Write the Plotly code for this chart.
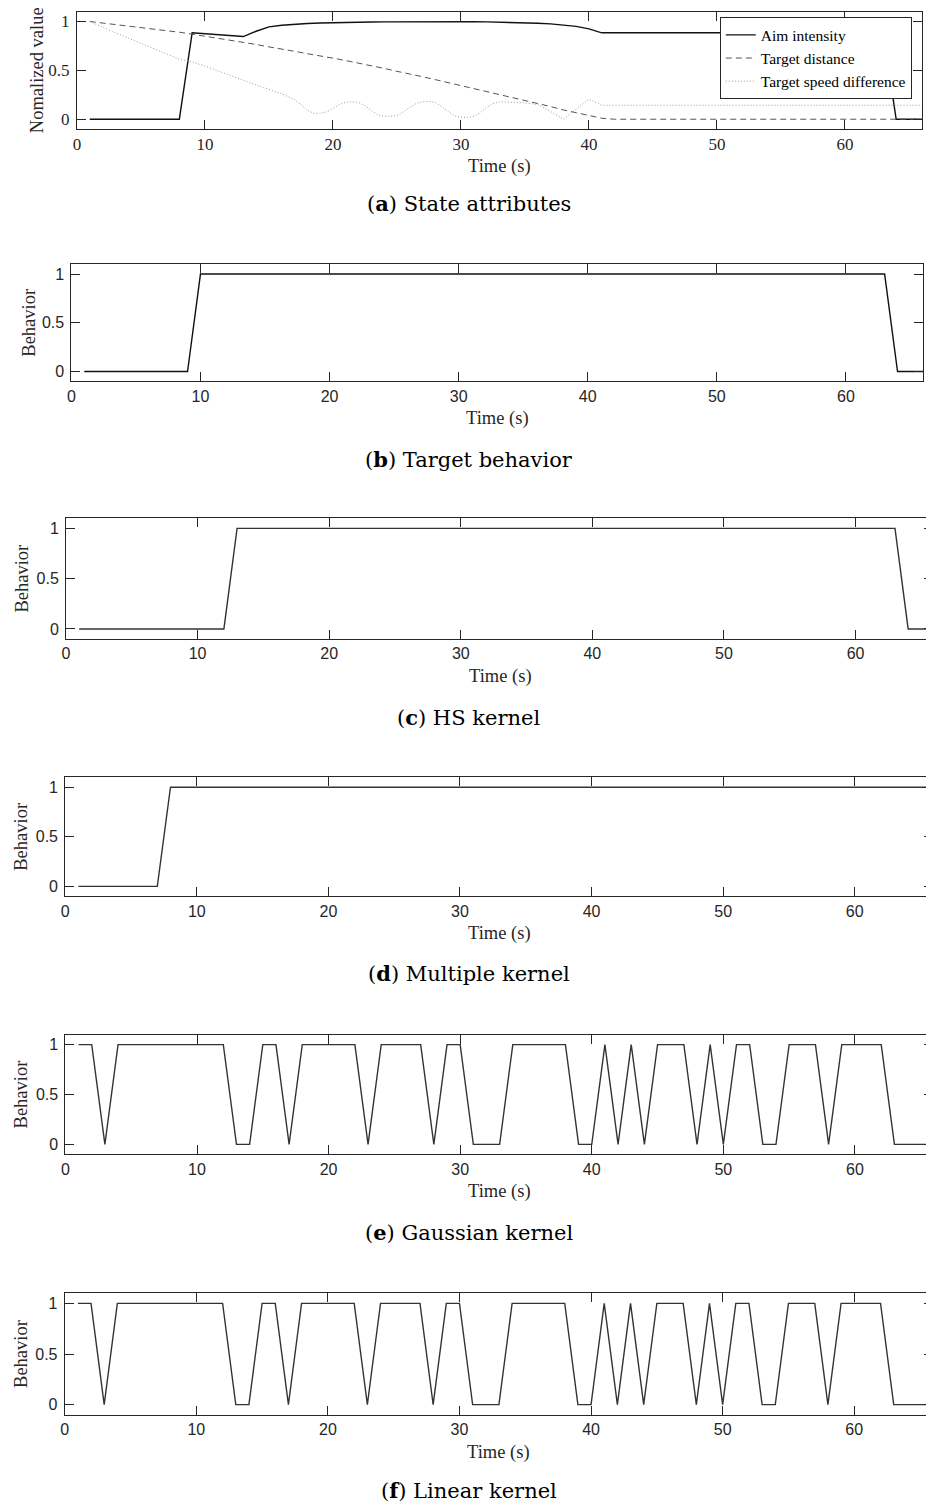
import plotly.graph_objects as go

# ---------------- data ----------------
time_s = list(range(1, 67))

aim_intensity = [0, 0, 0, 0, 0, 0, 0, 0,
                 0.884, 0.874, 0.864, 0.855, 0.846, 0.90, 0.945, 0.962, 0.972, 0.979,
                 0.984, 0.988, 0.991, 0.993, 0.995, 0.996, 0.997, 0.998, 0.998, 0.998,
                 0.998, 0.998, 0.997, 0.996, 0.994, 0.991, 0.987, 0.982, 0.975, 0.965,
                 0.95, 0.925, 0.884] + [0.884] * 22 + [0, 0, 0]

target_distance = [1.0, 0.985, 0.97, 0.955, 0.94, 0.925, 0.91, 0.89, 0.87, 0.85,
                   0.83, 0.81, 0.785, 0.765, 0.74, 0.72, 0.695, 0.67, 0.65, 0.625,
                   0.6, 0.575, 0.545, 0.52, 0.49, 0.465, 0.435, 0.405, 0.375, 0.345,
                   0.315, 0.285, 0.255, 0.225, 0.195, 0.16, 0.13, 0.095, 0.065, 0.035,
                   0.01] + [0.0] * 25

speed_time = [1, 2, 3, 4, 5, 6, 7, 8, 9, 10, 11, 12, 13, 14, 15, 16, 17, 17.5, 18, 18.5,
              19, 19.5, 20, 20.5, 21, 21.5, 22, 22.5, 23, 23.5, 24, 24.5, 25, 25.5, 26,
              26.5, 27, 27.5, 28, 28.5, 29, 29.5, 30, 30.5, 31, 31.5, 32, 32.5, 33, 33.5,
              34, 35, 36, 37, 38, 39, 40, 41, 66]
speed_difference = [1.0, 0.94, 0.885, 0.83, 0.775, 0.72, 0.665, 0.615, 0.585, 0.545,
                    0.495, 0.445, 0.395, 0.35, 0.305, 0.26, 0.2, 0.15, 0.09, 0.062,
                    0.06, 0.075, 0.11, 0.15, 0.175, 0.178, 0.17, 0.14, 0.09, 0.045,
                    0.03, 0.03, 0.04, 0.075, 0.12, 0.16, 0.18, 0.182, 0.17, 0.13,
                    0.08, 0.035, 0.02, 0.018, 0.03, 0.07, 0.12, 0.16, 0.178, 0.175,
                    0.17, 0.168, 0.15, 0.08, 0.0, 0.1, 0.205, 0.143, 0.143]

target_behavior = [0] * 9 + [1] * 54 + [0] * 3
hs_kernel = [0] * 12 + [1] * 51 + [0] * 3
multiple_kernel = [0] * 7 + [1] * 59
gaussian_kernel = [1, 1, 0, 1, 1, 1, 1, 1, 1, 1, 1, 1, 0, 0, 1, 1, 0, 1, 1, 1,
                   1, 1, 0, 1, 1, 1, 1, 0, 1, 1, 0, 0, 0, 1, 1, 1, 1, 1, 0, 0,
                   1, 0, 1, 0, 1, 1, 1, 0, 1, 0, 1, 1, 0, 0, 1, 1, 1, 0, 1, 1,
                   1, 1, 0, 0, 0, 0]
linear_kernel = [1, 1, 0, 1, 1, 1, 1, 1, 1, 1, 1, 1, 0, 0, 1, 1, 0, 1, 1, 1,
                 1, 1, 0, 1, 1, 1, 1, 0, 1, 1, 0, 0, 0, 1, 1, 1, 1, 1, 0, 0,
                 1, 0, 1, 0, 1, 1, 1, 0, 1, 0, 1, 1, 0, 0, 1, 1, 1, 0, 1, 1,
                 1, 1, 0, 0, 0, 0]

x_ticks = [0, 10, 20, 30, 40, 50, 60]
y_ticks = [0, 0.5, 1]
y_tick_labels = ["0", "0.5", "1"]

captions = ["(<b>a</b>) State attributes", "(<b>b</b>) Target behavior",
            "(<b>c</b>) HS kernel", "(<b>d</b>) Multiple kernel",
            "(<b>e</b>) Gaussian kernel", "(<b>f</b>) Linear kernel"]
y_titles = ["Nomalized value", "Behavior", "Behavior", "Behavior", "Behavior", "Behavior"]
x_title = "Time (s)"

# ---------------- layout geometry (page pixels) ----------------
OFF = 8                      # default page body margin
W, H = 934 - OFF, 1505 - OFF
SERIF = "Liberation Serif"
CAPFONT = "DejaVu Serif"
SANS = "Liberation Sans"
AX = "#262626"
PX_PER_S = 13.23

panels = [
    dict(left=73.3, right=922.7, top=11.7, bottom=129.0, ytx=33, cap=203, serif=True),
    dict(left=67.7, right=924.3, top=264.3, bottom=381.3, ytx=25, cap=460, serif=False),
    dict(left=62.3, right=None, top=518.3, bottom=639.0, ytx=18, cap=717, serif=False),
    dict(left=61.5, right=None, top=777.3, bottom=896.3, ytx=17, cap=973, serif=False),
    dict(left=61.7, right=None, top=1034.7, bottom=1154.3, ytx=17, cap=1232, serif=False),
    dict(left=61.0, right=None, top=1293.3, bottom=1414.7, ytx=17, cap=1490, serif=False),
]

def px(x):
    return (x - OFF) / W

def py(y):
    return 1 - (y - OFF) / H

fig = go.Figure()

# panel a traces
fig.add_trace(go.Scatter(x=time_s, y=aim_intensity, mode="lines", name="Aim intensity",
                         line=dict(color="#111111", width=1.4), xaxis="x", yaxis="y"))
fig.add_trace(go.Scatter(x=time_s, y=target_distance, mode="lines", name="Target distance",
                         line=dict(color="#555555", width=1, dash="6px,4px"), xaxis="x", yaxis="y"))
fig.add_trace(go.Scatter(x=speed_time, y=speed_difference, mode="lines",
                         name="Target speed difference",
                         line=dict(color="#9a9a9a", width=1, dash="1px,2px"), xaxis="x", yaxis="y"))

behaviors = [target_behavior, hs_kernel, multiple_kernel, gaussian_kernel, linear_kernel]
line_colors = ["#111111", "#333333", "#333333", "#333333", "#333333"]
for i, b in enumerate(behaviors):
    k = i + 2
    fig.add_trace(go.Scatter(x=time_s, y=b, mode="lines", showlegend=False,
                             line=dict(color=line_colors[i], width=1.4),
                             xaxis=f"x{k}", yaxis=f"y{k}"))

annotations = []
layout = {}
for i, p in enumerate(panels):
    k = "" if i == 0 else str(i + 1)
    if p["right"] is None:
        right_px = OFF + W
        xmax = (right_px - p["left"]) / PX_PER_S
        full_right = p["left"] + 66 * PX_PER_S
    else:
        right_px = p["right"]
        xmax = 66
        full_right = p["right"]
    tick_font = dict(family=SERIF if p["serif"] else SANS, size=17 if p["serif"] else 16,
                     color="#262626")
    layout[f"xaxis{k}"] = dict(
        domain=[px(p["left"]), min(1, px(right_px))], range=[0, xmax], anchor=f"y{k}",
        tickvals=x_ticks, ticks="inside", ticklen=9, tickcolor=AX, tickwidth=1,
        showline=True, linecolor=AX, linewidth=1, mirror="ticks",
        showgrid=False, zeroline=False, tickfont=tick_font, ticklabelstandoff=0,
    )
    layout[f"yaxis{k}"] = dict(
        domain=[py(p["bottom"]), py(p["top"])], range=[-0.1, 1.1], anchor=f"x{k}",
        tickvals=y_ticks, ticktext=y_tick_labels, ticks="inside", ticklen=9,
        tickcolor=AX, tickwidth=1, showline=True, linecolor=AX, linewidth=1,
        mirror="ticks", showgrid=False, zeroline=False, tickfont=tick_font,
        ticklabelstandoff=3,
    )
    annotations.append(dict(text=y_titles[i], textangle=-90, xref="paper", yref="paper",
                            x=px(p["ytx"]), y=py((p["top"] + p["bottom"]) / 2),
                            xanchor="center", yanchor="middle", showarrow=False,
                            font=dict(family=SERIF, size=18.5, color="#262626")))
    annotations.append(dict(text=x_title, xref="paper", yref="paper",
                            x=px((p["left"] + full_right) / 2),
                            y=py(p["bottom"] + 37.5), xanchor="center", yanchor="middle",
                            showarrow=False,
                            font=dict(family=SERIF, size=18.5, color="#262626")))
    annotations.append(dict(text=captions[i], xref="paper", yref="paper",
                            x=px(467), y=py(p["cap"]), xanchor="center", yanchor="middle",
                            showarrow=False, font=dict(family=CAPFONT, size=21, color="black")))

fig.update_layout(
    width=W, height=H, margin=dict(l=0, r=0, t=0, b=0),
    paper_bgcolor="white", plot_bgcolor="white",
    annotations=annotations,
    legend=dict(x=px(912.7), y=py(17.3), xanchor="right", yanchor="top",
                bgcolor="white", bordercolor="#262626", borderwidth=1,
                font=dict(family=SERIF, size=15.5, color="black"),
                tracegroupgap=0, itemwidth=30),
    **layout,
)

fig.write_html("out.html")
